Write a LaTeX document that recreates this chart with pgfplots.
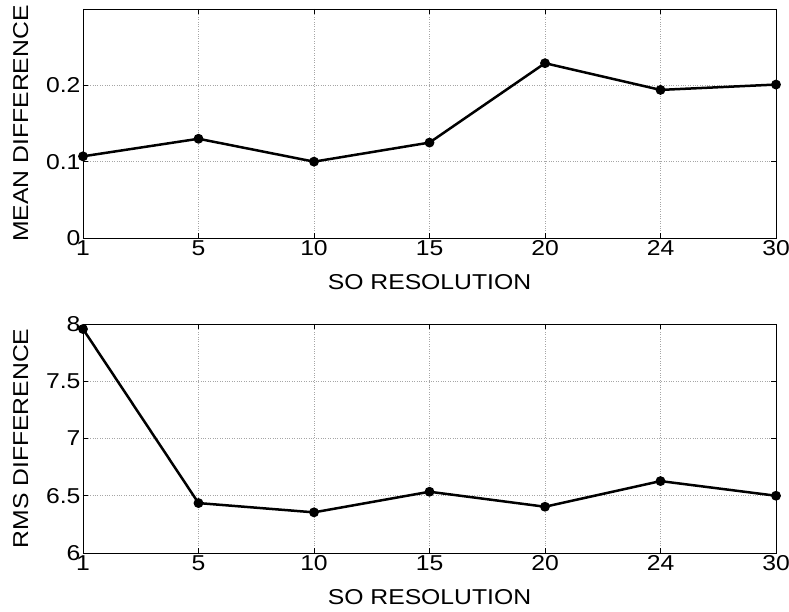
\documentclass[border=0pt]{standalone}
\usepackage{fontspec}
\setmainfont{Liberation Sans}[FakeStretch=1.15]
\usepackage{pgfplots}
\pgfplotsset{compat=1.18}

\pgfplotsset{
  mstyle/.style={
    scale only axis, width=693pt, height=229pt,
    xmin=0, xmax=6,
    xtick={0,1,2,3,4,5,6},
    xticklabels={1,5,10,15,20,24,30},
    grid=major,
    major grid style={dotted, gray!70, line width=0.5pt},
    axis line style={line width=0.9pt},
    tick style={black, line width=0.6pt},
    tick align=inside,
    major tick length=5pt,
    xtick pos=both, ytick pos=both,
    ticklabel style={font=\fontsize{21.5}{21.5}\selectfont},
    label style={font=\fontsize{21.5}{21.5}\selectfont},
    /pgf/number format/assume math mode=true,
    xticklabel style={yshift=1pt},
    yticklabel style={xshift=1pt},
    xlabel={SO RESOLUTION},
    xlabel style={yshift=-12pt},
    ylabel style={yshift=11pt},
  },
  lstyle/.style={black, line width=2.5pt, mark=*, mark size=3.6pt},
}

\begin{document}
\begin{tikzpicture}
\path[use as bounding box] (-83pt,-59pt) rectangle (706pt,553pt);

% upper panel
\begin{axis}[mstyle, at={(0pt,315pt)}, anchor=south west,
  ymin=0, ymax=0.3, ytick={0,0.1,0.2}, yticklabels={0,0.1,0.2},
  ylabel={MEAN DIFFERENCE}]
\addplot[lstyle] coordinates {
(0,0.107) (1,0.130) (2,0.100) (3,0.125) (4,0.229) (5,0.194) (6,0.201)};
\end{axis}

% lower panel
\begin{axis}[mstyle, at={(0pt,0pt)}, anchor=south west,
  ymin=6, ymax=8, ytick={6,6.5,7,7.5,8}, yticklabels={6,6.5,7,7.5,8},
  ylabel={RMS DIFFERENCE}]
\addplot[lstyle] coordinates {
(0,7.956) (1,6.436) (2,6.355) (3,6.535) (4,6.404) (5,6.628) (6,6.500)};
\end{axis}
\end{tikzpicture}
\end{document}
